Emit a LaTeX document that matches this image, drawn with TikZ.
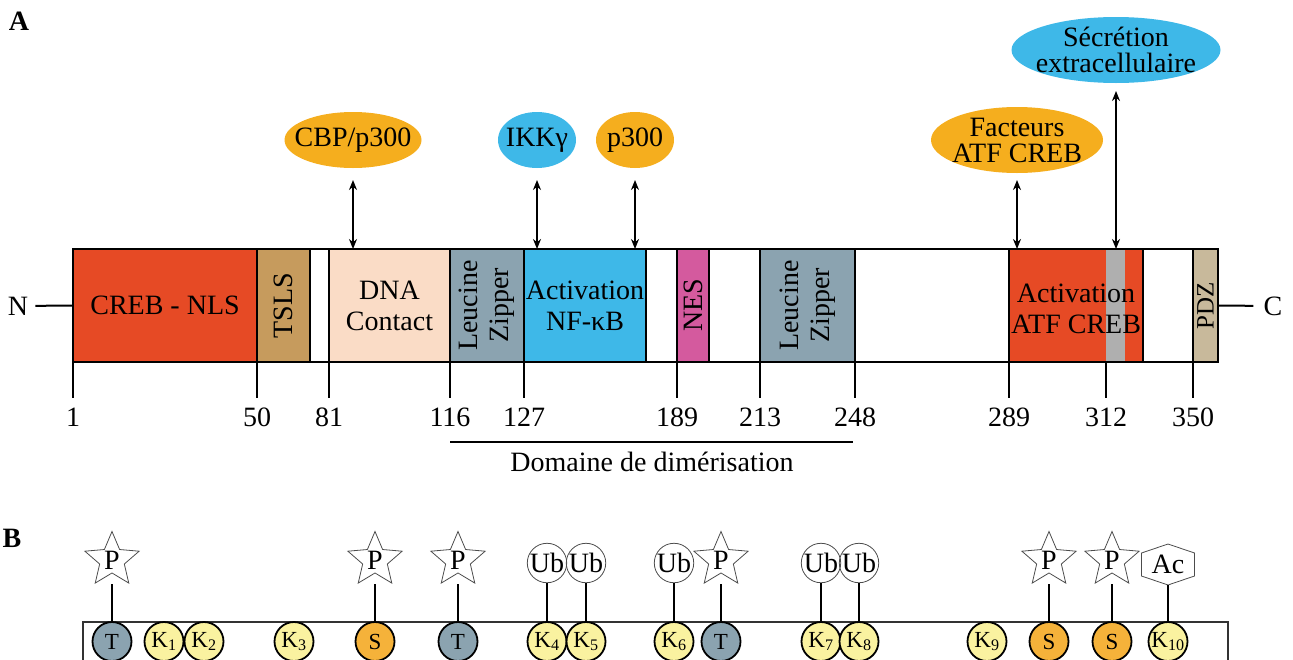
\documentclass[tikz,border=0pt]{standalone}
\usepackage{fontspec}
\setmainfont{Liberation Serif}
\usepackage{xcolor}
\usepackage{tikz}
\usetikzlibrary{positioning}
\usetikzlibrary{shapes.geometric}
\usetikzlibrary{arrows.meta}
\usetikzlibrary{calc}

\definecolor{nlsred}{RGB}{230,74,37}
\definecolor{tslstan}{RGB}{198,155,93}
\definecolor{dnapeach}{RGB}{250,220,198}
\definecolor{zipgray}{RGB}{139,163,176}
\definecolor{nfkbblue}{RGB}{62,184,232}
\definecolor{nespink}{RGB}{212,90,158}
\definecolor{stripegray}{RGB}{175,175,175}
\definecolor{pdzbeige}{RGB}{200,185,155}
\definecolor{partorange}{RGB}{245,174,30}
\definecolor{lysyellow}{RGB}{250,242,160}
\definecolor{serorange}{RGB}{245,178,58}

\tikzset{
  dom/.style={draw, line width=2.5pt, minimum height=113pt, inner sep=0pt, outer sep=0pt},
  domtxt/.style={align=center, inner sep=0pt, font=\fontsize{28}{31}\selectfont},
  vtxt/.style={domtxt, rotate=90},
  partner/.style={ellipse, inner sep=-20pt, outer sep=0pt, align=center, font=\fontsize{28}{26}\selectfont},
  num/.style={inner xsep=0pt, inner ysep=10pt, outer sep=0pt, font=\fontsize{28}{30}\selectfont},
  link/.style={{Stealth[length=10pt,width=8pt]}-{Stealth[length=10pt,width=8pt]}, line width=1.8pt, shorten <=12pt},
  tick/.style={line width=2pt},
  res/.style={circle, draw, line width=1.8pt, minimum size=39pt, inner sep=0pt, font=\fontsize{23}{23}\selectfont},
  phos/.style={star, star points=5, star point ratio=2.2, draw=black!70, line width=0.8pt, minimum size=57pt, inner sep=0pt, font=\fontsize{28}{28}\selectfont},
  ubq/.style={circle, draw=black!70, line width=0.8pt, minimum size=38pt, inner sep=0pt, font=\fontsize{28}{28}\selectfont},
  stem/.style={line width=2.3pt}
}

\begin{document}
\begin{tikzpicture}[x=1pt, y=-1pt, font=\fontsize{28}{30}\selectfont]
\useasboundingbox (0,0) rectangle (1293,659);

\node[font=\fontsize{28}{30}\bfseries] (lblA) at (19,21) {A};
\node[font=\fontsize{28}{30}\bfseries] (lblB) at (12,538) {B};

% domaines
\node[dom, fill=nlsred, minimum width=184pt] (nls) at (165,305.5) {};
\node[dom, fill=tslstan, minimum width=53pt] (tsls) at (283.5,305.5) {};
\node[dom, fill=dnapeach, minimum width=121pt] (dna) at (389.5,305.5) {};
\node[dom, fill=zipgray, minimum width=74pt] (lz1) at (487,305.5) {};
\node[dom, fill=nfkbblue, minimum width=122pt] (nfkb) at (585,305.5) {};
\node[dom, fill=nespink, minimum width=32pt] (nes) at (693,305.5) {};
\node[dom, fill=zipgray, minimum width=95pt] (lz2) at (807.5,305.5) {};
\node[dom, fill=nlsred, minimum width=134pt] (atf) at (1076,305.5) {};
\node[fill=stripegray, minimum width=19pt, minimum height=113pt, inner sep=0pt, outer sep=0pt] (gray) at (1115.5,305.5) {};
\node[dom, fill=pdzbeige, minimum width=25pt] (pdz) at (1205.5,305.5) {};

\node[domtxt] (nlstxt) at (nls) {CREB - NLS};
\node[vtxt] (tslstxt) at (tsls) {TSLS};
\node[domtxt] (dnatxt) at (dna) {DNA\\Contact};
\node[vtxt] (lz1txt) at (lz1) {Leucine\\Zipper};
\node[domtxt] (nfkbtxt) at (nfkb) {Activation\\NF-κB};
\node[vtxt] (nestxt) at (nes) {NES};
\node[vtxt] (lz2txt) at (lz2) {Leucine\\Zipper};
\node[domtxt] (atftxt) at ([yshift=-3pt]atf) {Activation\\ATF CREB};
\node[vtxt, font=\fontsize{25}{27}\selectfont] (pdztxt) at (pdz) {PDZ};

\draw[line width=2.5pt] (nls.north west) rectangle (pdz.south east);

\node[inner xsep=7pt] (nterm) at (18,306) {N};
\node[inner xsep=10pt] (cterm) at (1273,306) {C};
\draw[tick] (nterm) -- (nls.west);
\draw[tick] (pdz.east) -- (cterm);

% positions
\node[num, below=36pt of nls.south west] (n1) {1};
\node[num, below=36pt of nls.south east] (n50) {50};
\node[num, below=36pt of dna.south west] (n81) {81};
\node[num, below=36pt of lz1.south west] (n116) {116};
\node[num, below=36pt of nfkb.south west] (n127) {127};
\node[num, below=36pt of nes.south west] (n189) {189};
\node[num, below=36pt of lz2.south west] (n213) {213};
\node[num, below=36pt of lz2.south east] (n248) {248};
\node[num, below=36pt of atf.south west] (n289) {289};
\node[num, below=36pt of gray.south west] (n312) {312};
\node[num, below=36pt of pdz.south west] (n350) {350};

\draw[tick] (nls.south west) -- (n1);
\draw[tick] (nls.south east) -- (n50);
\draw[tick] (dna.south west) -- (n81);
\draw[tick] (lz1.south west) -- (n116);
\draw[tick] (nfkb.south west) -- (n127);
\draw[tick] (nes.south west) -- (n189);
\draw[tick] (lz2.south west) -- (n213);
\draw[tick] (lz2.south east) -- (n248);
\draw[tick] (atf.south west) -- (n289);
\draw[tick] (gray.south west) -- (n312);
\draw[tick] (pdz.south west) -- (n350);

\coordinate (diml) at (450,442);
\coordinate (dimr) at (853,442);
\draw[tick] (diml) -- (dimr);
\node[anchor=base] (dimer) at (652,471) {Domaine de dimérisation};

% partenaires
\node[partner, fill=partorange, minimum width=137pt, minimum height=56pt] (cbp) at (353,140) {CBP/p300};
\node[partner, fill=nfkbblue, minimum width=78pt, minimum height=56pt] (ikk) at (537,140) {IKKγ};
\node[partner, fill=partorange, minimum width=78pt, minimum height=56pt] (p300) at (635,140) {p300};
\node[partner, fill=partorange, minimum width=172pt, minimum height=66pt] (fact) at (1017,140) {Facteurs\\ATF CREB};
\node[partner, fill=nfkbblue, minimum width=209pt, minimum height=66pt] (secr) at (1116,50) {Sécrétion\\extracellulaire};

\draw[link] (cbp) -- (cbp.south |- dna.north);
\draw[link] (ikk) -- (ikk.south |- nfkb.north);
\draw[link] (p300) -- (p300.south |- nfkb.north);
\draw[link, shorten <=7pt] (fact) -- (fact.south |- atf.north);
\draw[link, shorten <=8pt] (secr) -- (secr.south |- atf.north);

% partie B
\draw[line width=1.3pt, draw=black!80] (83,622) rectangle (1228,700);

\node[res, fill=zipgray] (t1) at (112,641.5) {T};
\node[res, fill=lysyellow] (k1) at (164,641.5) {K\textsubscript{1}};
\node[res, fill=lysyellow] (k2) at (204,641.5) {K\textsubscript{2}};
\node[res, fill=lysyellow] (k3) at (294,641.5) {K\textsubscript{3}};
\node[res, fill=serorange] (s1) at (375,641.5) {S};
\node[res, fill=zipgray] (t2) at (458,641.5) {T};
\node[res, fill=lysyellow] (k4) at (547,641.5) {K\textsubscript{4}};
\node[res, fill=lysyellow] (k5) at (586,641.5) {K\textsubscript{5}};
\node[res, fill=lysyellow] (k6) at (674,641.5) {K\textsubscript{6}};
\node[res, fill=zipgray] (t3) at (721,641.5) {T};
\node[res, fill=lysyellow] (k7) at (821,641.5) {K\textsubscript{7}};
\node[res, fill=lysyellow] (k8) at (859,641.5) {K\textsubscript{8}};
\node[res, fill=lysyellow] (k9) at (987,641.5) {K\textsubscript{9}};
\node[res, fill=serorange] (s2) at (1049,641.5) {S};
\node[res, fill=serorange] (s3) at (1112,641.5) {S};
\node[res, fill=lysyellow] (k10) at (1168,641.5) {K\textsubscript{10}};

\node[phos] (p1) at (112,560) {P};
\node[phos] (p2) at (375,560) {P};
\node[phos] (p3) at (458,560) {P};
\node[phos] (p4) at (721,560) {P};
\node[phos] (p5) at (1049,560) {P};
\node[phos] (p6) at (1112,560) {P};
\node[ubq] (u4) at (547,563) {Ub};
\node[ubq] (u5) at (586,563) {Ub};
\node[ubq] (u6) at (674,563) {Ub};
\node[ubq] (u7) at (821,563) {Ub};
\node[ubq] (u8) at (859,563) {Ub};
\node[minimum width=53pt, minimum height=41pt, inner sep=0pt, outer sep=0pt] (ac) at (1168,564.5) {Ac};
\draw[draw=black!70, line width=0.8pt] (ac.north) -- ([yshift=-9pt]ac.north east) -- ([yshift=9pt]ac.south east) -- (ac.south) -- ([yshift=9pt]ac.south west) -- ([yshift=-9pt]ac.north west) -- cycle;

\draw[stem] (t1) -- (t1 |- p1.outer point 3);
\draw[stem] (s1) -- (s1 |- p2.outer point 3);
\draw[stem] (t2) -- (t2 |- p3.outer point 3);
\draw[stem] (t3) -- (t3 |- p4.outer point 3);
\draw[stem] (s2) -- (s2 |- p5.outer point 3);
\draw[stem] (s3) -- (s3 |- p6.outer point 3);
\draw[stem] (k4) -- (u4);
\draw[stem] (k5) -- (u5);
\draw[stem] (k6) -- (u6);
\draw[stem] (k7) -- (u7);
\draw[stem] (k8) -- (u8);
\draw[stem] (k10) -- (ac);
\end{tikzpicture}
\end{document}
